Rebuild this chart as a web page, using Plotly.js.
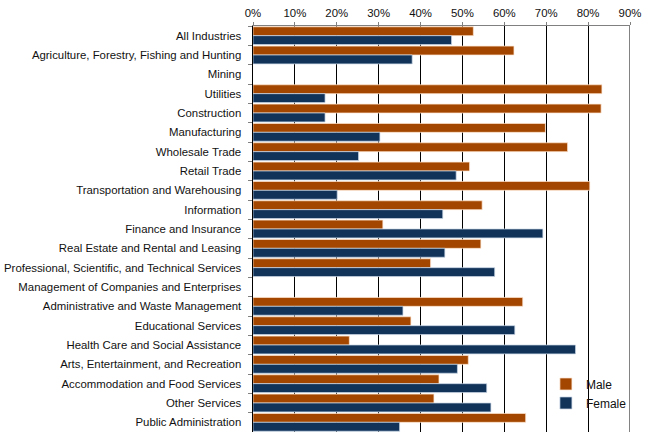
<!DOCTYPE html>
<html>
<head>
<meta charset="utf-8">
<script src="https://cdn.plot.ly/plotly-3.0.1.min.js"></script>
<style>html,body{margin:0;padding:0;background:#fff;}#chart{width:650px;height:433px;}</style>
</head>
<body>
<div id="chart"></div>
<script>
const categories = [
  "All Industries",
  "Agriculture, Forestry, Fishing and Hunting",
  "Mining",
  "Utilities",
  "Construction",
  "Manufacturing",
  "Wholesale Trade",
  "Retail Trade",
  "Transportation and Warehousing",
  "Information",
  "Finance and Insurance",
  "Real Estate and Rental and Leasing",
  "Professional, Scientific, and Technical Services",
  "Management of Companies and Enterprises",
  "Administrative and Waste Management",
  "Educational Services",
  "Health Care and Social Assistance",
  "Arts, Entertainment, and Recreation",
  "Accommodation and Food Services",
  "Other Services",
  "Public Administration"
];
const maleValues = [52.6, 62.3, null, 83.3, 83.1, 69.8, 75.1, 51.7, 80.4, 54.7, 31.0, 54.4, 42.4, null, 64.4, 37.7, 23.0, 51.4, 44.4, 43.2, 65.1];
const femaleValues = [47.4, 38.0, null, 17.2, 17.2, 30.3, 25.2, 48.5, 20.1, 45.3, 69.2, 45.8, 57.7, null, 35.8, 62.5, 77.0, 48.8, 55.8, 56.8, 35.0];
const xTickValues = [0, 10, 20, 30, 40, 50, 60, 70, 80, 90];
const xTickLabels = ["0%", "10%", "20%", "30%", "40%", "50%", "60%", "70%", "80%", "90%"];

const font = {family: "Liberation Sans, Arial, sans-serif", size: 11.4, color: "#111111"};

const traces = [
  {type: "bar", orientation: "h", name: "Male", y: categories, x: maleValues,
   marker: {color: "#A34700", line: {color: "rgba(255,230,210,0.9)", width: 0.8}}},
  {type: "bar", orientation: "h", name: "Female", y: categories, x: femaleValues,
   marker: {color: "#11335A", line: {color: "rgba(200,215,230,0.9)", width: 0.8}}}
];

const layout = {
  width: 650, height: 433,
  margin: {l: 253, r: 20, t: 26, b: 1, pad: 0},
  paper_bgcolor: "#ffffff", plot_bgcolor: "#ffffff",
  font: font,
  barmode: "group", bargap: 0.08, bargroupgap: 0,
  showlegend: true,
  legend: {x: 0.777, y: 0.154, xanchor: "left", yanchor: "top", bgcolor: "rgba(0,0,0,0)",
           font: {family: font.family, size: 12, color: "#111111"}, itemwidth: 30, tracegroupgap: 0,
           traceorder: "normal"},
  xaxis: {side: "top", range: [0, 90], tickvals: xTickValues, ticktext: xTickLabels,
          showgrid: true, gridcolor: "#000000", gridwidth: 1, zeroline: false,
          showline: true, linecolor: "#808080", linewidth: 1,
          ticks: "outside", ticklen: 3, tickcolor: "#808080", tickfont: font, fixedrange: true},
  yaxis: {type: "category", categoryorder: "array", categoryarray: categories, autorange: "reversed",
          showline: true, linecolor: "#000000", linewidth: 1.5,
          ticks: "outside", tickson: "boundaries", ticklen: 4, tickcolor: "#808080",
          ticklabelstandoff: 8,
          tickfont: font, showgrid: false, zeroline: false, fixedrange: true, automargin: false},
  shapes: [
    {type: "line", xref: "x", yref: "paper", x0: 90, x1: 90, y0: 0, y1: 1,
     line: {color: "#595959", width: 1.5}}
  ]
};

Plotly.newPlot("chart", traces, layout, {displayModeBar: false, staticPlot: true});
</script>
</body>
</html>
